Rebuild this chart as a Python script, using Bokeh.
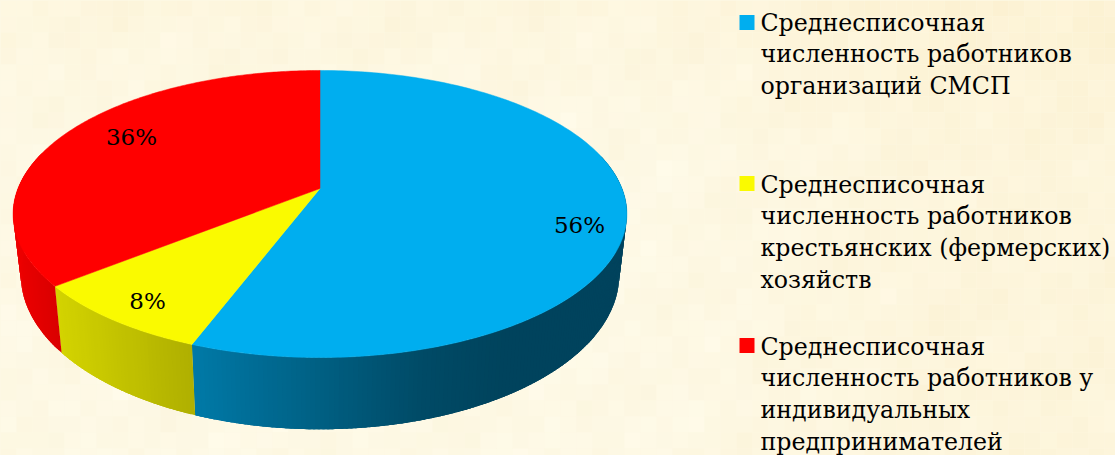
import numpy as np
from bokeh.plotting import figure
from bokeh.embed import file_html
from bokeh.resources import INLINE
from bokeh.core.properties import value
from bokeh.models import Range1d

# data
shares = [55.75, 8.49, 35.76]
labels = ["56%", "8%", "36%"]
legend_lines = [
    ["Среднесписочная", "численность работников", "организаций СМСП"],
    ["Среднесписочная", "численность работников", "крестьянских (фермерских)", "хозяйств"],
    ["Среднесписочная", "численность работников у", "индивидуальных", "предпринимателей"],
]
colors = [(0, 174, 239), (250, 250, 0), (255, 0, 0)]

# geometry of the tilted disc, in page pixels
APEX_X, APEX_Y = 319.5, 188.0
A, B, K = 302.0, 139.0, 0.1777
D, SHRINK = 59.0, 0.975
LABEL_XY = [(579, 224), (147, 300), (131, 136)]
LEG_Y = [22, 184, 346]
LEG_STEP = 31.8
LEG_SWATCH_Y = [22, 183, 345]
W, H = 1115, 455


def top(t):
    d = 1 + K * np.cos(t)
    return APEX_X + A * np.sin(t) / d, APEX_Y - B * np.cos(t) / d


def bottom(t):
    x, y = top(t)
    return APEX_X + (x - APEX_X) * SHRINK, y + D / (1 + K * np.cos(t))


def shade(x):
    return np.interp(x, [13, 60, 190, 340, 420, 500], [0.93, 0.84, 0.70, 0.52, 0.43, 0.39])


p = figure(width=W, height=H, output_backend="svg", toolbar_location=None,
           x_range=Range1d(0, W), y_range=Range1d(H, 0),
           min_border=0, outline_line_color=None, background_fill_color="#fdf8e4",
           border_fill_color="#fdf8e4")
p.axis.visible = False
p.grid.visible = False

# parchment background: a soft mosaic of nearly equal creams
CELL = 16
gx, gy = np.meshgrid(np.arange(0, W, CELL), np.arange(0, H, CELL))
tex = (np.sin(gx / 23 + gy / 41) + np.sin(gx / 11 - gy / 17 + 1.3) + np.sin(gx / 57 + gy / 13 + 2.1)
       + np.sin(gx / 7.3 + gy / 9.1 + 0.4))
warm = np.clip((gx - 640) / 300, 0, 1) * 0.6 + np.clip((140 - gy) / 140, 0, 1) * 0.4
rr = (254 + 0.4 * tex - warm).astype(int)
gg = (249 + 0.7 * tex - 6 * warm).astype(int)
bb = (229 + 1.5 * tex - 16 * warm).astype(int)
cell_colors = ["#%02x%02x%02x" % (min(r, 255), g, b) for r, g, b in zip(rr.ravel(), gg.ravel(), bb.ravel())]
p.quad(left=gx.ravel(), right=gx.ravel() + CELL, top=gy.ravel(), bottom=gy.ravel() + CELL,
       fill_color=cell_colors, line_color=None)

edges = np.radians(np.cumsum([0] + shares) * 3.6)

# side wall: overlapping strips so no seams show
xs, ys, cs = [], [], []
for i, col in enumerate(colors):
    lo, hi = edges[i], edges[i + 1]
    step = np.radians(0.75)
    tt = np.arange(lo, hi, step)
    tt = tt[np.cos(tt) < 0.25]
    if len(tt) == 0:
        continue
    for a in tt:
        b = min(a + 2.5 * step, hi)
        arc = np.linspace(a, b, 5)
        xa, ya = top(arc)
        xb, yb = bottom(arc)
        f = float(shade(xa.mean()))
        c = "#%02x%02x%02x" % tuple(int(v * f) for v in col)
        xs.append(np.r_[xa, xb[::-1]]); ys.append(np.r_[ya, yb[::-1]]); cs.append(c)
p.patches(xs, ys, fill_color=cs, line_color=None)

# top face
for i, col in enumerate(colors):
    tt = np.linspace(edges[i], edges[i + 1], 200)
    x, y = top(tt)
    c = "#%02x%02x%02x" % col
    p.patch(np.r_[APEX_X, x], np.r_[APEX_Y, y], fill_color=c, line_color=c, line_width=0.5)

# percentage labels
p.text([q[0] for q in LABEL_XY], [q[1] for q in LABEL_XY], text=labels,
       text_font=value("DejaVu Serif"), text_font_size="23px", text_color="#000000",
       text_align="center", text_baseline="middle")

# legend
for i, lines in enumerate(legend_lines):
    c = "#%02x%02x%02x" % colors[i]
    p.scatter([746.5], [LEG_SWATCH_Y[i]], marker="square", size=15, fill_color=c, line_color=None)
    p.text([760] * len(lines), [LEG_Y[i] + j * LEG_STEP for j in range(len(lines))], text=lines,
           text_font=value("DejaVu Serif"), text_font_size="23.7px", text_color="#000000",
           text_align="left", text_baseline="middle")

html = file_html(p, INLINE)
html = html.replace("<head>", "<head><style>html,body{background:#fdf8e4;overflow:hidden}</style>", 1)
open("out.html", "w").write(html)
